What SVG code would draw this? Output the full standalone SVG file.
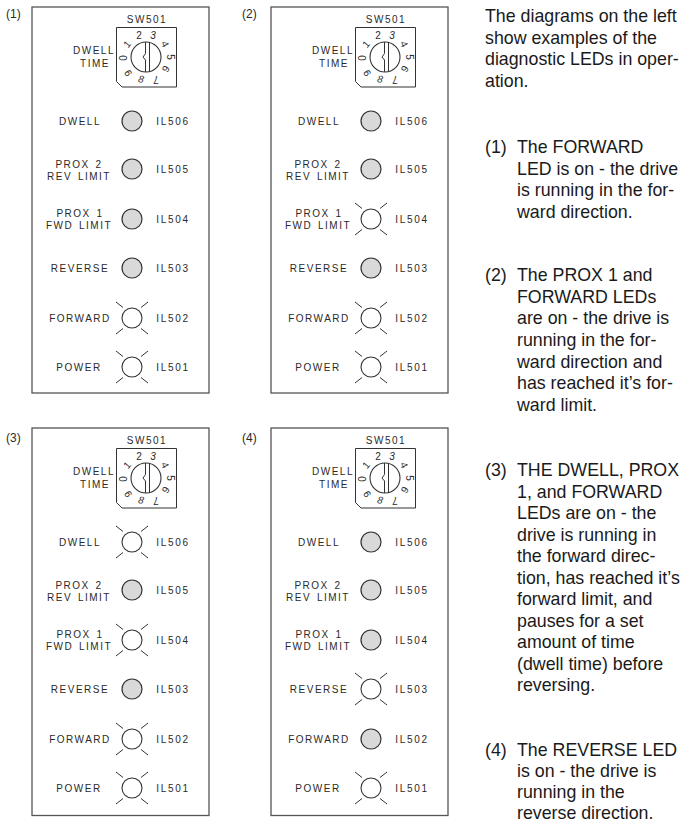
<svg xmlns="http://www.w3.org/2000/svg" width="682" height="822" viewBox="0 0 682 822">
<style>
text{font-family:"Liberation Sans",Arial,sans-serif;fill:#2a2a2a}
.p{fill:#fff;stroke:#555;stroke-width:1.3}
.l{font-size:10px;letter-spacing:1.5px;word-spacing:1.5px;text-anchor:middle}
.i{font-size:10px;letter-spacing:1.7px;text-anchor:middle}
.d{font-size:10px;text-anchor:middle}
.n{font-size:12px}
.b{font-size:17.800px;fill:#1a1a1a}
.o{fill:#d9d9d9;stroke:#333;stroke-width:1.2}
.f{fill:#fff;stroke:#333;stroke-width:1.1}
.r{fill:none;stroke:#333;stroke-width:1}
</style>
<defs>
<g id="dark"><circle class="o" r="10"/></g>
<g id="lit"><circle class="f" r="10"/><path class="r" d="M-16-16-9-10.500M16-16 9-10.500M-16 16-9 10.500M16 16 9 10.500"/></g>
<g id="dial">
<path class="r" d="M116.500 27.500H176.500V87H122L116.500 81.500Z"/>
<circle class="f" cx="146" cy="57" r="15"/>
<path class="r" d="M145.500 42V53.500L143 57L145.500 60V72M149.500 42V72"/>
</g>
</defs>
<g id="panel-1"><text class="n" x="6" y="18">(1)</text><rect class="p" x="32" y="7" width="177" height="386"/>
<use href="#dial"/>
<text class="l" x="147" y="23">SW501</text><text class="l" x="94" y="54">DWELL</text><text class="l" x="95" y="67">TIME</text>
<g class="dg"><text class="d" transform="translate(139 35)" y="3.500">2</text><text class="d" transform="translate(153 35)" y="3.500" font-style="italic">3</text><text class="d" transform="translate(165 44) rotate(65)" y="3.500">4</text><text class="d" transform="translate(170 57) rotate(90)" y="3.500">5</text><text class="d" transform="translate(166 69) rotate(120)" y="3.500">6</text><text class="d" transform="translate(156 79) rotate(180)" y="3.500">7</text><text class="d" transform="translate(141 79) rotate(10)" y="3.500" font-style="italic">8</text><text class="d" transform="translate(128 73) rotate(-120)" y="3.500">9</text><text class="d" transform="translate(123 58) rotate(-90)" y="3.500">0</text><text class="d" transform="translate(127 44) rotate(-50)" y="3.500">1</text></g>
<text class="l" x="80" y="125">DWELL</text><use href="#dark" x="132" y="121"/><text class="i" x="173" y="125">IL506</text>
<text class="l" x="79" y="168">PROX 2</text><text class="l" x="79" y="180">REV LIMIT</text><use href="#dark" x="132" y="169"/><text class="i" x="173" y="173">IL505</text>
<text class="l" x="80" y="217">PROX 1</text><text class="l" x="79" y="229">FWD LIMIT</text><use href="#dark" x="132" y="219"/><text class="i" x="173" y="223">IL504</text>
<text class="l" x="80" y="272">REVERSE</text><use href="#dark" x="132" y="268"/><text class="i" x="173" y="272">IL503</text>
<text class="l" x="80" y="322">FORWARD</text><use href="#lit" x="132" y="318"/><text class="i" x="173" y="322">IL502</text>
<text class="l" x="79" y="371">POWER</text><use href="#lit" x="132" y="367"/><text class="i" x="173" y="371">IL501</text>
</g>
<g id="panel-2" transform="translate(239 0)"><text class="n" x="3" y="18">(2)</text><rect class="p" x="32" y="7" width="177" height="386"/>
<use href="#dial"/>
<text class="l" x="147" y="23">SW501</text><text class="l" x="94" y="54">DWELL</text><text class="l" x="95" y="67">TIME</text>
<g class="dg"><text class="d" transform="translate(139 35)" y="3.500">2</text><text class="d" transform="translate(153 35)" y="3.500" font-style="italic">3</text><text class="d" transform="translate(165 44) rotate(65)" y="3.500">4</text><text class="d" transform="translate(170 57) rotate(90)" y="3.500">5</text><text class="d" transform="translate(166 69) rotate(120)" y="3.500">6</text><text class="d" transform="translate(156 79) rotate(180)" y="3.500">7</text><text class="d" transform="translate(141 79) rotate(10)" y="3.500" font-style="italic">8</text><text class="d" transform="translate(128 73) rotate(-120)" y="3.500">9</text><text class="d" transform="translate(123 58) rotate(-90)" y="3.500">0</text><text class="d" transform="translate(127 44) rotate(-50)" y="3.500">1</text></g>
<text class="l" x="80" y="125">DWELL</text><use href="#dark" x="132" y="121"/><text class="i" x="173" y="125">IL506</text>
<text class="l" x="79" y="168">PROX 2</text><text class="l" x="79" y="180">REV LIMIT</text><use href="#dark" x="132" y="169"/><text class="i" x="173" y="173">IL505</text>
<text class="l" x="80" y="217">PROX 1</text><text class="l" x="79" y="229">FWD LIMIT</text><use href="#lit" x="132" y="219"/><text class="i" x="173" y="223">IL504</text>
<text class="l" x="80" y="272">REVERSE</text><use href="#dark" x="132" y="268"/><text class="i" x="173" y="272">IL503</text>
<text class="l" x="80" y="322">FORWARD</text><use href="#lit" x="132" y="318"/><text class="i" x="173" y="322">IL502</text>
<text class="l" x="79" y="371">POWER</text><use href="#lit" x="132" y="367"/><text class="i" x="173" y="371">IL501</text>
</g>
<g id="panel-3" transform="translate(0 421)"><text class="n" x="6" y="20.500">(3)</text><rect class="p" x="32" y="7" width="177" height="387.500"/>
<use href="#dial"/>
<text class="l" x="147" y="23">SW501</text><text class="l" x="94" y="54">DWELL</text><text class="l" x="95" y="67">TIME</text>
<g class="dg"><text class="d" transform="translate(139 35)" y="3.500">2</text><text class="d" transform="translate(153 35)" y="3.500" font-style="italic">3</text><text class="d" transform="translate(165 44) rotate(65)" y="3.500">4</text><text class="d" transform="translate(170 57) rotate(90)" y="3.500">5</text><text class="d" transform="translate(166 69) rotate(120)" y="3.500">6</text><text class="d" transform="translate(156 79) rotate(180)" y="3.500">7</text><text class="d" transform="translate(141 79) rotate(10)" y="3.500" font-style="italic">8</text><text class="d" transform="translate(128 73) rotate(-120)" y="3.500">9</text><text class="d" transform="translate(123 58) rotate(-90)" y="3.500">0</text><text class="d" transform="translate(127 44) rotate(-50)" y="3.500">1</text></g>
<text class="l" x="80" y="125">DWELL</text><use href="#lit" x="132" y="121"/><text class="i" x="173" y="125">IL506</text>
<text class="l" x="79" y="168">PROX 2</text><text class="l" x="79" y="180">REV LIMIT</text><use href="#dark" x="132" y="169"/><text class="i" x="173" y="173">IL505</text>
<text class="l" x="80" y="217">PROX 1</text><text class="l" x="79" y="229">FWD LIMIT</text><use href="#lit" x="132" y="219"/><text class="i" x="173" y="223">IL504</text>
<text class="l" x="80" y="272">REVERSE</text><use href="#dark" x="132" y="268"/><text class="i" x="173" y="272">IL503</text>
<text class="l" x="80" y="322">FORWARD</text><use href="#lit" x="132" y="318"/><text class="i" x="173" y="322">IL502</text>
<text class="l" x="79" y="371">POWER</text><use href="#lit" x="132" y="367"/><text class="i" x="173" y="371">IL501</text>
</g>
<g id="panel-4" transform="translate(239 421)"><text class="n" x="3" y="20.500">(4)</text><rect class="p" x="32" y="7" width="177" height="387.500"/>
<use href="#dial"/>
<text class="l" x="147" y="23">SW501</text><text class="l" x="94" y="54">DWELL</text><text class="l" x="95" y="67">TIME</text>
<g class="dg"><text class="d" transform="translate(139 35)" y="3.500">2</text><text class="d" transform="translate(153 35)" y="3.500" font-style="italic">3</text><text class="d" transform="translate(165 44) rotate(65)" y="3.500">4</text><text class="d" transform="translate(170 57) rotate(90)" y="3.500">5</text><text class="d" transform="translate(166 69) rotate(120)" y="3.500">6</text><text class="d" transform="translate(156 79) rotate(180)" y="3.500">7</text><text class="d" transform="translate(141 79) rotate(10)" y="3.500" font-style="italic">8</text><text class="d" transform="translate(128 73) rotate(-120)" y="3.500">9</text><text class="d" transform="translate(123 58) rotate(-90)" y="3.500">0</text><text class="d" transform="translate(127 44) rotate(-50)" y="3.500">1</text></g>
<text class="l" x="80" y="125">DWELL</text><use href="#dark" x="132" y="121"/><text class="i" x="173" y="125">IL506</text>
<text class="l" x="79" y="168">PROX 2</text><text class="l" x="79" y="180">REV LIMIT</text><use href="#dark" x="132" y="169"/><text class="i" x="173" y="173">IL505</text>
<text class="l" x="80" y="217">PROX 1</text><text class="l" x="79" y="229">FWD LIMIT</text><use href="#dark" x="132" y="219"/><text class="i" x="173" y="223">IL504</text>
<text class="l" x="80" y="272">REVERSE</text><use href="#lit" x="132" y="268"/><text class="i" x="173" y="272">IL503</text>
<text class="l" x="80" y="322">FORWARD</text><use href="#dark" x="132" y="318"/><text class="i" x="173" y="322">IL502</text>
<text class="l" x="79" y="371">POWER</text><use href="#lit" x="132" y="367"/><text class="i" x="173" y="371">IL501</text>
</g>
<g id="description">
<text class="b" x="485" y="22">The diagrams on the left</text>
<text class="b" x="485" y="43.500">show examples of the</text>
<text class="b" x="485" y="65">diagnostic LEDs in oper-</text>
<text class="b" x="485" y="86.500">ation.</text>
<text class="b" x="485" y="153">(1)</text>
<text class="b" x="517" y="153">The FORWARD</text>
<text class="b" x="517" y="174.500">LED is on - the drive</text>
<text class="b" x="517" y="196">is running in the for-</text>
<text class="b" x="517" y="217.500">ward direction.</text>
<text class="b" x="485" y="281">(2)</text>
<text class="b" x="517" y="281">The PROX 1 and</text>
<text class="b" x="517" y="302.500">FORWARD LEDs</text>
<text class="b" x="517" y="324">are on - the drive is</text>
<text class="b" x="517" y="346">running in the for-</text>
<text class="b" x="517" y="367.500">ward direction and</text>
<text class="b" x="517" y="389">has reached it’s for-</text>
<text class="b" x="517" y="410.500">ward limit.</text>
<text class="b" x="485" y="476">(3)</text>
<text class="b" x="517" y="476">THE DWELL, PROX</text>
<text class="b" x="517" y="497.500">1, and FORWARD</text>
<text class="b" x="517" y="519">LEDs are on - the</text>
<text class="b" x="517" y="540.500">drive is running in</text>
<text class="b" x="517" y="562">the forward direc-</text>
<text class="b" x="517" y="583.500">tion, has reached it’s</text>
<text class="b" x="517" y="605">forward limit, and</text>
<text class="b" x="517" y="626.500">pauses for a set</text>
<text class="b" x="517" y="648">amount of time</text>
<text class="b" x="517" y="669.500">(dwell time) before</text>
<text class="b" x="517" y="691">reversing.</text>
<text class="b" x="485" y="755.500">(4)</text>
<text class="b" x="517" y="755.500">The REVERSE LED</text>
<text class="b" x="517" y="777">is on - the drive is</text>
<text class="b" x="517" y="798">running in the</text>
<text class="b" x="517" y="819">reverse direction.</text>
</g>
</svg>
